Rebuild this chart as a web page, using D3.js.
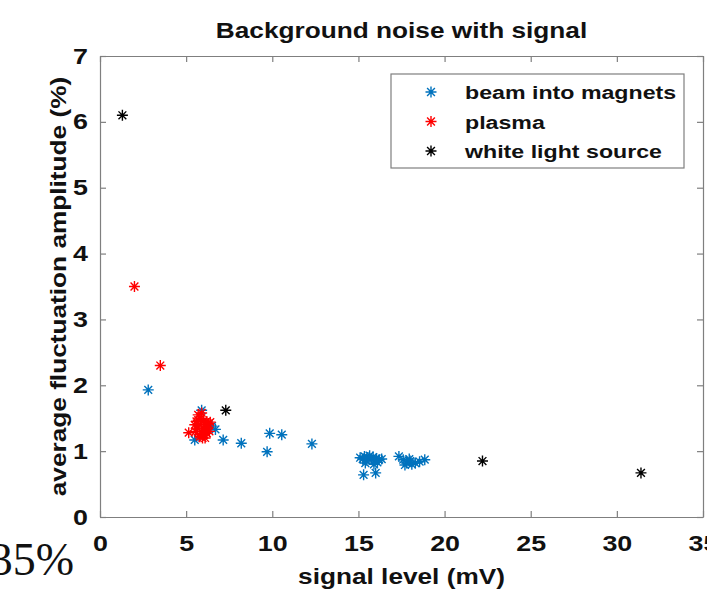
<!DOCTYPE html>
<html>
<head>
    <title>Background noise with signal</title>
    <script src="https://cdnjs.cloudflare.com/ajax/libs/d3/7.8.5/d3.min.js"></script>
    <style>
        body { margin: 0; background: #fff; }
        text { font-family: "Liberation Sans", Arial, sans-serif; font-weight: bold; fill: #111; }
    </style>
</head>
<body>
    <div id="chart"></div>
    <script>
        // values
        const xTicks = [0, 5, 10, 15, 20, 25, 30, 35]
        const yTicks = [0, 1, 2, 3, 4, 5, 6, 7]
        const seriesNames = ["beam into magnets", "plasma", "white light source"]

        const beamX = [2.8, 5.5, 5.9, 6.2, 6.5, 6.7, 7.15, 8.2, 9.7, 9.85, 10.55, 12.3,
            15.1, 15.25, 15.35, 15.45, 15.55, 15.65, 15.75, 15.85, 15.95, 16.05, 16.2, 15.4, 15.9, 16.1, 15.3, 16.0, 16.35,
            17.35, 17.6, 17.8, 17.95, 18.1, 18.3, 18.55, 18.85, 17.7, 18.0]
        const beamY = [1.93, 1.17, 1.62, 1.35, 1.38, 1.33, 1.17, 1.12, 0.99, 1.27, 1.25, 1.11,
            0.9, 0.88, 0.92, 0.86, 0.9, 0.93, 0.88, 0.91, 0.86, 0.89, 0.87, 0.82, 0.8, 0.83, 0.64, 0.67, 0.88,
            0.92, 0.87, 0.82, 0.88, 0.8, 0.82, 0.84, 0.87, 0.79, 0.85]

        const plasmaX = [2.0, 3.5, 5.15, 5.6, 5.65, 5.7, 5.75, 5.8, 5.85, 5.9, 5.95, 6.0, 6.0, 6.05, 6.1,
            6.15, 6.2, 6.25, 6.3, 5.8, 5.9, 6.1, 5.7, 6.2, 5.55, 6.4, 6.35, 5.5]
        const plasmaY = [3.5, 2.3, 1.28, 1.45, 1.35, 1.55, 1.25, 1.4, 1.5, 1.3, 1.2, 1.45, 1.35, 1.25, 1.4,
            1.3, 1.45, 1.35, 1.42, 1.22, 1.58, 1.2, 1.47, 1.27, 1.3, 1.44, 1.3, 1.4]

        const lightX = [1.3, 7.3, 22.2, 31.4]
        const lightY = [6.1, 1.62, 0.85, 0.67]

        const colors = ["#0072BD", "#FF0000", "#000000"]

        const W = 707, H = 595
        const PLOT = { left: 100, right: 703, top: 56, bottom: 517 }
        const SX = 1.22   // source picture is stretched sideways
        const axisGrey = "#7f7f7f"
        const star = "M-5.5,0H5.5M0,-5.5V5.5M-3.9,-3.9L3.9,3.9M-3.9,3.9L3.9,-3.9"

        let svg = d3.select("#chart").append("svg").attr("width", W).attr("height", H)

        let x = d3.scaleLinear().domain([0, 35]).range([PLOT.left, PLOT.right])
        let y = d3.scaleLinear().domain([0, 7]).range([PLOT.bottom, PLOT.top])

        function label(txt, px, py, size, opts) {
            opts = opts || {}
            return svg.append("text")
                .attr("transform", `translate(${px},${py}) ${opts.rotate ? "rotate(-90)" : ""} scale(${opts.sx || SX},1)`)
                .attr("text-anchor", opts.anchor || "middle")
                .style("font-size", size + "px")
                .text(txt)
        }

        // axes, ticks point inward
        function styleAxis(sel) {
            sel.selectAll("path, line").attr("stroke", axisGrey).attr("stroke-width", 1.2)
            sel.selectAll("text").style("font-size", "22px").attr("fill", "#111")
                .attr("transform", `scale(${SX},1)`)
        }

        svg.append("g").attr("transform", `translate(0,${PLOT.bottom})`)
            .call(d3.axisBottom(x).tickValues(xTicks).tickFormat(d3.format("d"))
                .tickSizeInner(-6).tickSizeOuter(0).tickPadding(18))
            .call(styleAxis)
        svg.append("g").attr("transform", `translate(${PLOT.left},0)`)
            .call(d3.axisLeft(y).tickValues(yTicks).tickFormat(d3.format("d"))
                .tickSizeInner(-6).tickSizeOuter(0).tickPadding(10))
            .call(styleAxis)
        svg.append("g").attr("transform", `translate(0,${PLOT.top})`)
            .call(d3.axisTop(x).tickValues(xTicks).tickSizeInner(-6).tickSizeOuter(0).tickFormat(""))
            .call(styleAxis)
        svg.append("g").attr("transform", `translate(${PLOT.right},0)`)
            .call(d3.axisRight(y).tickValues(yTicks).tickSizeInner(-6).tickSizeOuter(0).tickFormat(""))
            .call(styleAxis)

        // points
        let series = [
            { xs: beamX, ys: beamY },
            { xs: plasmaX, ys: plasmaY },
            { xs: lightX, ys: lightY }
        ]
        series.forEach(function (s, i) {
            svg.append("g").selectAll("path").data(s.xs.map((v, j) => [v, s.ys[j]]))
                .enter().append("path")
                .attr("d", star)
                .attr("transform", d => `translate(${x(d[0])},${y(d[1])})`)
                .attr("fill", "none").attr("stroke", colors[i]).attr("stroke-width", 1.4)
        })

        // legend
        let leg = svg.append("g")
        leg.append("rect").attr("x", 391).attr("y", 74).attr("width", 293).attr("height", 94)
            .attr("fill", "#fff").attr("stroke", axisGrey).attr("stroke-width", 1.2)
        seriesNames.forEach(function (name, i) {
            let ly = 92 + i * 29.5
            leg.append("path").attr("d", star).attr("transform", `translate(431,${ly})`)
                .attr("fill", "none").attr("stroke", colors[i]).attr("stroke-width", 1.4)
            label(name, 465, ly + 7, 19, { anchor: "start" })
        })

        // titles
        label("Background noise with signal", (PLOT.left + PLOT.right) / 2, 38, 21.5)
        label("signal level (mV)", (PLOT.left + PLOT.right) / 2, 584, 21.5)
        label("average fluctuation amplitude (%)", 66, (PLOT.top + PLOT.bottom) / 2, 21.5, { rotate: true })

        // stray text from the surrounding page
        svg.append("text").attr("x", 74).attr("y", 575).attr("text-anchor", "end")
            .style("font-family", "'Liberation Serif', 'Times New Roman', serif")
            .style("font-weight", "normal").style("font-size", "46px").text("35%")
    </script>
</body>
</html>
